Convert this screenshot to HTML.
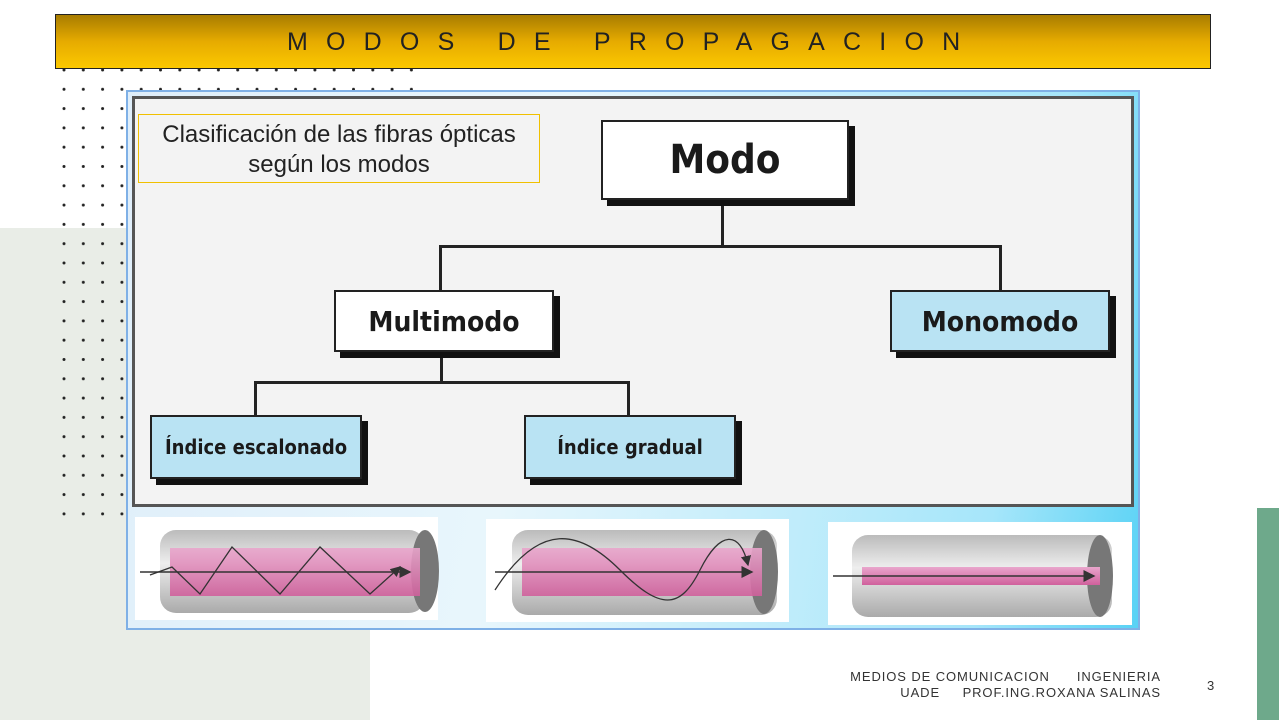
<!DOCTYPE html>
<html><head><meta charset="utf-8"><style>
*{margin:0;padding:0;box-sizing:border-box}
body{width:1279px;height:720px;position:relative;overflow:hidden;background:#fff;font-family:"Liberation Sans",sans-serif}
.a{position:absolute}
.box{position:absolute;border:2px solid #222;box-shadow:6px 6px 0 #111;display:flex;align-items:center;justify-content:center;font-weight:bold;color:#1a1a1a;font-family:"DejaVu Sans Condensed","DejaVu Sans",sans-serif}
.blue{background:#b9e3f3}
.wh{background:#fff}
.ln{position:absolute;background:#222}
</style></head><body>
<div class="a" style="left:0;top:228px;width:370px;height:492px;background:#e9ede7"></div>
<div class="a" style="left:1257px;top:508px;width:22px;height:212px;background:#6ea98b"></div>
<svg class="a" style="left:0;top:0" width="420" height="520">
<defs><pattern id="d" x="62" y="68" width="19.3" height="19.3" patternUnits="userSpaceOnUse"><circle cx="2" cy="2" r="1.5" fill="#222"/></pattern></defs>
<rect x="60" y="66" width="356" height="450" fill="url(#d)"/>
</svg>
<div class="a" style="left:55px;top:14px;width:1156px;height:55px;border:1px solid #222;background:linear-gradient(#a87c00,#e6ab00 50%,#fcc800)"></div>
<div class="a" style="left:287px;top:14px;width:720px;height:55px;font-size:25px;letter-spacing:18.2px;line-height:57px;color:#222;white-space:nowrap">MODOS DE PROPAGACION</div>
<div class="a" style="left:126px;top:90px;width:1014px;height:540px;background:linear-gradient(100deg,#dfeefa 0%,#e8f6fc 40%,#a6e6fa 85%,#58d2f5 100%);border:2px solid #7fb0e6"></div>
<div class="a" style="left:132px;top:96px;width:1002px;height:411px;background:#f3f3f3;border:3px solid #555"></div>
<div class="a" style="left:138px;top:114px;width:402px;height:69px;border:1px solid #f0c000;font-size:24px;color:#222;text-align:center;line-height:30px;padding-top:5px;white-space:nowrap">Clasificación de las fibras ópticas<br>según los modos</div>
<div class="ln" style="left:721px;top:200px;width:3px;height:47px"></div>
<div class="ln" style="left:439px;top:245px;width:563px;height:3px"></div>
<div class="ln" style="left:439px;top:245px;width:3px;height:46px"></div>
<div class="ln" style="left:999px;top:245px;width:3px;height:46px"></div>
<div class="ln" style="left:440px;top:354px;width:3px;height:30px"></div>
<div class="ln" style="left:254px;top:381px;width:376px;height:3px"></div>
<div class="ln" style="left:254px;top:381px;width:3px;height:35px"></div>
<div class="ln" style="left:627px;top:381px;width:3px;height:35px"></div>
<div class="box wh" style="left:601px;top:120px;width:248px;height:80px;font-size:40px">Modo</div>
<div class="box wh" style="left:334px;top:290px;width:220px;height:62px;font-size:28px">Multimodo</div>
<div class="box blue" style="left:890px;top:290px;width:220px;height:62px;font-size:28px">Monomodo</div>
<div class="box blue" style="left:150px;top:415px;width:212px;height:64px;font-size:20px">Índice escalonado</div>
<div class="box blue" style="left:524px;top:415px;width:212px;height:64px;font-size:20px">Índice gradual</div>
<svg class="a" style="left:0;top:0" width="1279" height="720">
<defs>
<linearGradient id="g" x1="0" y1="0" x2="0" y2="1"><stop offset="0" stop-color="#bbb"/><stop offset=".4" stop-color="#eee"/><stop offset="1" stop-color="#aaa"/></linearGradient>
<linearGradient id="p" x1="0" y1="0" x2="0" y2="1"><stop offset="0" stop-color="#e9a6cc"/><stop offset="1" stop-color="#d0609c"/></linearGradient>
<marker id="m" markerWidth="8" markerHeight="8" refX="7" refY="4" orient="auto"><path d="M0,0L8,4L0,8z" fill="#333"/></marker>
</defs>
<rect x="135" y="517" width="303" height="103" fill="#fff"/>
<rect x="486" y="519" width="303" height="103" fill="#fff"/>
<rect x="828" y="522" width="304" height="103" fill="#fff"/>
<g>
<rect x="160" y="530" width="265" height="83" rx="16" fill="url(#g)"/><ellipse cx="425" cy="571" rx="14" ry="41" fill="#777"/>
<rect x="170" y="548" width="250" height="48" fill="url(#p)" opacity=".9"/>
<polyline points="150,575 172,567 200,594 232,547 280,594 320,547 370,594 400,567" fill="none" stroke="#333" stroke-width="1.3" marker-end="url(#m)"/>
<line x1="140" y1="572" x2="410" y2="572" stroke="#333" stroke-width="1.5" marker-end="url(#m)"/>
</g>
<g>
<rect x="512" y="530" width="265" height="85" rx="16" fill="url(#g)"/><ellipse cx="764" cy="572" rx="14" ry="42" fill="#777"/>
<rect x="522" y="548" width="240" height="48" fill="url(#p)" opacity=".9"/>
<path d="M495,590 C540,520 580,530 620,570 S680,610 700,570 S740,530 748,565" fill="none" stroke="#333" stroke-width="1.3" marker-end="url(#m)"/>
<line x1="495" y1="572" x2="752" y2="572" stroke="#333" stroke-width="1.5" marker-end="url(#m)"/>
</g>
<g>
<rect x="852" y="535" width="260" height="82" rx="16" fill="url(#g)"/><ellipse cx="1100" cy="576" rx="13" ry="41" fill="#777"/>
<rect x="862" y="567" width="238" height="18" fill="url(#p)"/>
<line x1="833" y1="576" x2="1094" y2="576" stroke="#333" stroke-width="1.5" marker-end="url(#m)"/>
</g>
</svg>
<div class="a" style="left:820px;top:669px;width:341px;text-align:right;font-size:13px;line-height:16px;color:#333;letter-spacing:.9px;white-space:nowrap">MEDIOS DE COMUNICACION &nbsp;&nbsp;&nbsp;&nbsp; INGENIERIA<br>UADE &nbsp;&nbsp;&nbsp; PROF.ING.ROXANA SALINAS</div>
<div class="a" style="left:1207px;top:678px;font-size:13px;color:#333">3</div>
</body></html>
